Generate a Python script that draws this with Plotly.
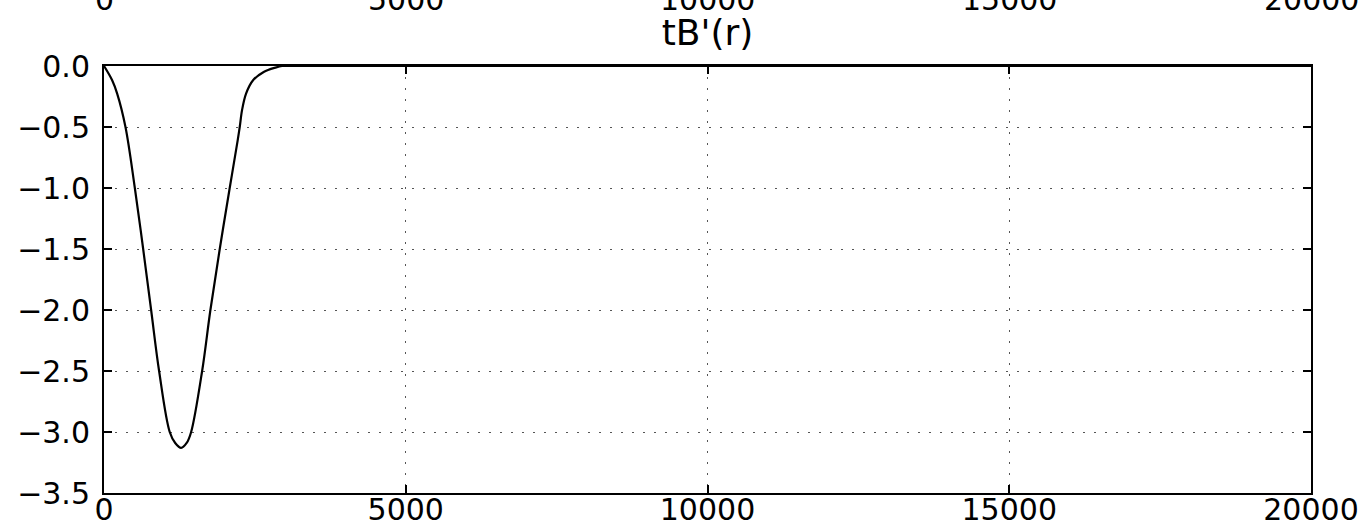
import plotly.graph_objects as go

# radial profile tB'(r): sampled radius values and the function values
r_vals = [0, 135, 218, 356, 511, 649, 781, 913, 1089, 1180, 1278, 1370,
          1444, 1626, 1763, 1918, 2083, 2215, 2249, 2288, 2354, 2470, 2646,
          2840, 2950, 3200, 20000]
tb_vals = [0.0, -0.117, -0.226, -0.5, -1.0, -1.5, -2.0, -2.5, -3.0, -3.09,
           -3.13, -3.09, -3.0, -2.5, -2.0, -1.5, -1.0, -0.61, -0.5, -0.36,
           -0.226, -0.117, -0.049, -0.013, 0.0, 0.0, 0.0]

x_ticks = [0, 5000, 10000, 15000, 20000]
y_ticks = [0.0, -0.5, -1.0, -1.5, -2.0, -2.5, -3.0, -3.5]

FONT = "DejaVu Sans"
FS = 30

fig = go.Figure()
fig.add_trace(go.Scatter(
    x=r_vals, y=tb_vals, mode="lines",
    line=dict(color="black", width=2.2, shape="spline", smoothing=1.0),
    showlegend=False, hoverinfo="skip",
))

axis_common = dict(
    showline=True, linecolor="black", linewidth=2, mirror="ticks",
    ticks="inside", ticklen=8, tickwidth=1.5, tickcolor="black",
    showgrid=True, gridcolor="#555555", gridwidth=1, griddash="2px,9px",
    zeroline=False, automargin=False,
    tickfont=dict(family=FONT, size=FS, color="black"),
)

fig.update_xaxes(range=[0, 20000], tickvals=x_ticks, tickformat="d",
                 ticklabelstandoff=-11, **axis_common)
fig.update_yaxes(range=[-3.5, 0], tickvals=y_ticks, tickformat=".1f",
                 ticklabelstandoff=6, **axis_common)

# tick labels of the panel above, cut by the top edge of the page
for t in x_ticks:
    fig.add_annotation(x=t, xref="x", y=1.156, yref="paper",
                       text=str(t), showarrow=False, yanchor="middle",
                       xanchor="center",
                       font=dict(family=FONT, size=FS, color="black"))

fig.update_layout(
    width=1366, height=531,
    margin=dict(l=104, r=55, t=66, b=38, pad=0),
    paper_bgcolor="white", plot_bgcolor="white",
    title=dict(text="tB'(r)", x=0.5, xref="paper", y=1 - 32 / 531,
               yref="container", yanchor="middle", xanchor="center",
               font=dict(family=FONT, size=36, color="black")),
)

fig.write_html("out.html")
